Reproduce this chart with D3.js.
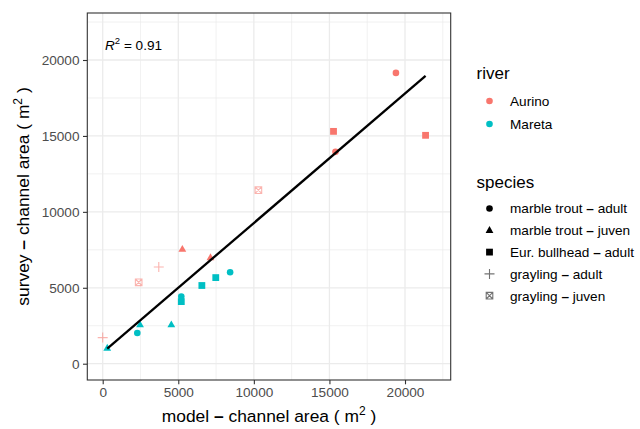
<!doctype html>
<html>
<head>
  <meta charset="utf-8">
  <title>channel area</title>
  <script src="https://cdnjs.cloudflare.com/ajax/libs/d3/7.8.5/d3.min.js"></script>
  <style>
    body { margin: 0; background: #fff; }
    svg { font-family: "Liberation Sans", Arial, sans-serif; }
  </style>
</head>
<body>
<div id="chart"></div>
<script>
  // data
  const river = ["Aurino","Aurino","Aurino","Aurino","Aurino","Aurino","Aurino","Aurino","Aurino","Aurino",
                 "Mareta","Mareta","Mareta","Mareta","Mareta","Mareta","Mareta","Mareta","Mareta"];
  const species = ["mt_adult","mt_adult","bh_adult","bh_adult","gr_juven","mt_juven","mt_juven","gr_adult","gr_juven","gr_adult",
                   "mt_adult","bh_adult","bh_adult","mt_adult","bh_adult","mt_juven","mt_juven","mt_adult","mt_juven"];
  const modelArea  = [19400, 15400, 15270, 21360, 10300, 5270, 7130, 3710, 2380, 0,
                      8430, 7480, 6560, 5200, 5200, 2470, 4540, 2290, 300];
  const surveyArea = [19150, 13950, 15300, 15040, 11430, 7540, 6990, 6370, 5360, 1720,
                      6020, 5670, 5150, 4420, 4090, 2570, 2570, 2020, 1030];

  const rivers = ["Aurino", "Mareta"];
  const riverColors = ["#F8766D", "#00BFC4"];
  const speciesKeys = ["mt_adult", "mt_juven", "bh_adult", "gr_adult", "gr_juven"];
  const speciesNames = ["marble trout", "marble trout", "Eur. bullhead", "grayling", "grayling"];
  const speciesStages = ["adult", "juven", "adult", "adult", "juven"];

  // fitted line (ends)
  const fitX = [300, 21360];
  const fitY = [990, 18960];
  const r2 = "0.91";

  const xTicks = [0, 5000, 10000, 15000, 20000];
  const yTicks = [0, 5000, 10000, 15000, 20000];
  const minorTicks = [-2500, 2500, 7500, 12500, 17500, 22500];

  const W = 640, H = 429;
  const panel = { left: 87.3, right: 450.7, top: 13, bottom: 380 };

  const svg = d3.select("#chart").append("svg")
    .attr("width", W).attr("height", H);

  const x = d3.scaleLinear().domain([-1019, 23023]).range([panel.left, panel.right]);
  const y = d3.scaleLinear().domain([-1073, 23095]).range([panel.bottom, panel.top]);
  const color = d3.scaleOrdinal().domain(rivers).range(riverColors);

  // panel background + grid
  svg.append("rect")
    .attr("x", panel.left).attr("y", panel.top)
    .attr("width", panel.right - panel.left).attr("height", panel.bottom - panel.top)
    .attr("fill", "#fff");

  const grid = svg.append("g");
  const xMinor = minorTicks.filter(v => x(v) > panel.left && x(v) < panel.right);
  const yMinor = minorTicks.filter(v => y(v) < panel.bottom && y(v) > panel.top);
  grid.selectAll("line.xm").data(xMinor).join("line")
    .attr("x1", d => x(d)).attr("x2", d => x(d))
    .attr("y1", panel.top).attr("y2", panel.bottom)
    .attr("stroke", "#EBEBEB").attr("stroke-width", 0.7);
  grid.selectAll("line.ym").data(yMinor).join("line")
    .attr("y1", d => y(d)).attr("y2", d => y(d))
    .attr("x1", panel.left).attr("x2", panel.right)
    .attr("stroke", "#EBEBEB").attr("stroke-width", 0.7);
  grid.selectAll("line.xM").data(xTicks).join("line")
    .attr("x1", d => x(d)).attr("x2", d => x(d))
    .attr("y1", panel.top).attr("y2", panel.bottom)
    .attr("stroke", "#EBEBEB").attr("stroke-width", 1.3);
  grid.selectAll("line.yM").data(yTicks).join("line")
    .attr("y1", d => y(d)).attr("y2", d => y(d))
    .attr("x1", panel.left).attr("x2", panel.right)
    .attr("stroke", "#EBEBEB").attr("stroke-width", 1.3);

  // axes
  const xAxis = svg.append("g")
    .attr("transform", `translate(0,${panel.bottom})`)
    .call(d3.axisBottom(x).tickValues(xTicks).tickSize(4.3).tickPadding(3.5).tickFormat(d3.format("d")));
  const yAxis = svg.append("g")
    .attr("transform", `translate(${panel.left},0)`)
    .call(d3.axisLeft(y).tickValues(yTicks).tickSize(4.3).tickPadding(3.5).tickFormat(d3.format("d")));
  [xAxis, yAxis].forEach(a => {
    a.select(".domain").remove();
    a.selectAll(".tick line").attr("stroke", "#333").attr("stroke-width", 1.1);
    a.selectAll(".tick text").attr("fill", "#4D4D4D")
      .style("font-size", "13.6px").style("font-family", "Liberation Sans, Arial, sans-serif");
  });

  // points
  const pts = modelArea.map((v, i) => ({ mx: v, sy: surveyArea[i], river: river[i], sp: species[i] }));

  function drawShape(g, sp, fill) {
    if (sp === "mt_adult") {
      g.append("circle").attr("r", 3.3).attr("fill", fill);
    } else if (sp === "mt_juven") {
      g.append("path").attr("d", "M0,-4.2L3.9,2.6L-3.9,2.6Z").attr("fill", fill);
    } else if (sp === "bh_adult") {
      g.append("rect").attr("x", -3.4).attr("y", -3.4).attr("width", 6.8).attr("height", 6.8).attr("fill", fill);
    } else if (sp === "gr_adult") {
      g.append("path").attr("d", "M-5,0H5M0,-5V5").attr("stroke", fill).attr("stroke-width", 1.1).attr("fill", "none");
    } else if (sp === "gr_juven") {
      g.append("path").attr("d", "M-3.3,-3.3H3.3V3.3H-3.3ZM-3.3,-3.3L3.3,3.3M3.3,-3.3L-3.3,3.3")
        .attr("stroke", fill).attr("stroke-width", 1.1).attr("fill", "none");
    }
  }

  const pointLayer = svg.append("g");
  pts.forEach(d => {
    const g = pointLayer.append("g")
      .attr("transform", `translate(${x(d.mx)},${y(d.sy)})`)
      .attr("opacity", d.sp.startsWith("gr") ? 0.55 : 1);
    drawShape(g, d.sp, color(d.river));
  });

  // fitted line
  svg.append("path")
    .datum(fitX.map((v, i) => [v, fitY[i]]))
    .attr("d", d3.line().x(d => x(d[0])).y(d => y(d[1])))
    .attr("stroke", "#000").attr("stroke-width", 2.3).attr("fill", "none");

  // panel border
  svg.append("rect")
    .attr("x", panel.left).attr("y", panel.top)
    .attr("width", panel.right - panel.left).attr("height", panel.bottom - panel.top)
    .attr("fill", "none").attr("stroke", "#333").attr("stroke-width", 1.1);

  // R^2 label
  const r2t = svg.append("text").attr("x", 105).attr("y", 49.5)
    .style("font-size", "13.6px").attr("fill", "#000");
  r2t.append("tspan").style("font-style", "italic").text("R");
  r2t.append("tspan").attr("dy", -5.5).style("font-size", "9.5px").text("2");
  r2t.append("tspan").attr("dy", 5.5).text(" = " + r2);

  // text with a bold dash, like plotmath
  function dashLabel(t, a, b) {
    t.append("tspan").text(a + " ");
    t.append("tspan").style("font-weight", "bold").text("–");
    t.append("tspan").text(" " + b);
  }

  // axis titles
  const xt = svg.append("text")
    .attr("x", (panel.left + panel.right) / 2).attr("y", 421.5)
    .attr("text-anchor", "middle").style("font-size", "17.4px");
  dashLabel(xt, "model", "channel area ( m");
  xt.append("tspan").attr("dy", -7).style("font-size", "12px").text("2");
  xt.append("tspan").attr("dy", 7).text(" )");

  const yt = svg.append("text")
    .attr("transform", `translate(29,${(panel.top + panel.bottom) / 2}) rotate(-90)`)
    .attr("text-anchor", "middle").style("font-size", "17.4px");
  dashLabel(yt, "survey", "channel area ( m");
  yt.append("tspan").attr("dy", -7).style("font-size", "12px").text("2");
  yt.append("tspan").attr("dy", 7).text(" )");

  // legends
  const legRiver = svg.append("g");
  legRiver.append("text").attr("x", 476.5).attr("y", 78.5).style("font-size", "17px").text("river");
  const rItems = legRiver.selectAll("g.item").data(rivers).join("g")
    .attr("transform", (d, i) => `translate(489.5,${101 + i * 23})`);
  rItems.append("circle").attr("r", 3.3).attr("fill", d => color(d));
  rItems.append("text").attr("x", 20.5).attr("y", 4.8).style("font-size", "13.6px").text(d => d);

  const legSp = svg.append("g");
  legSp.append("text").attr("x", 476.5).attr("y", 187.5).style("font-size", "17px").text("species");
  speciesKeys.forEach((k, i) => {
    const g = legSp.append("g").attr("transform", `translate(489.5,${208.5 + i * 21.8})`)
      .attr("opacity", k.startsWith("gr") ? 0.55 : 1);
    drawShape(g, k, "#000");
    const t = legSp.append("text").attr("x", 510).attr("y", 208.5 + i * 21.8 + 4.8)
      .style("font-size", "13.6px");
    dashLabel(t, speciesNames[i], speciesStages[i]);
  });
</script>
</body>
</html>
